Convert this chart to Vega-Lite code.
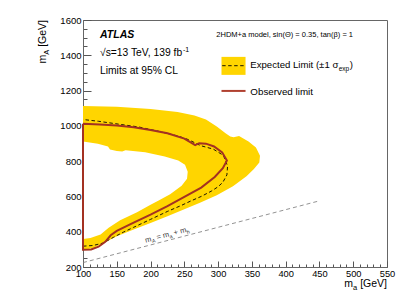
{
  "$schema": "https://vega.github.io/schema/vega-lite/v6.json",
  "width": 304,
  "height": 247,
  "autosize": "none",
  "padding": {"left": 83, "top": 20, "right": 28, "bottom": 31},
  "background": "white",
  "config": {
    "view": {"stroke": "#666", "strokeWidth": 1},
    "font": "Liberation Sans",
    "text": {"font": "Liberation Sans", "color": "black"}
  },
  "resolve": {"axis": {"x": "independent", "y": "independent"}},
  "datasets": {
    "outer": [
      {"x": 100, "y": 1113}, {"x": 150, "y": 1108}, {"x": 200, "y": 1095}, {"x": 240, "y": 1078},
      {"x": 265, "y": 1058}, {"x": 282, "y": 1036}, {"x": 298, "y": 997}, {"x": 311, "y": 958},
      {"x": 318, "y": 940}, {"x": 323, "y": 936}, {"x": 331, "y": 942}, {"x": 345, "y": 912},
      {"x": 356, "y": 877}, {"x": 362, "y": 830}, {"x": 361, "y": 792}, {"x": 353, "y": 755},
      {"x": 342, "y": 714}, {"x": 322, "y": 658}, {"x": 298, "y": 607}, {"x": 274, "y": 566},
      {"x": 250, "y": 528}, {"x": 225, "y": 488}, {"x": 200, "y": 450}, {"x": 175, "y": 412},
      {"x": 150, "y": 375}, {"x": 130, "y": 335}, {"x": 115, "y": 308}, {"x": 100, "y": 295}
    ],
    "hole": [
      {"x": 100, "y": 911}, {"x": 122, "y": 898}, {"x": 137, "y": 883}, {"x": 140, "y": 866},
      {"x": 150, "y": 858}, {"x": 158, "y": 855}, {"x": 163, "y": 862}, {"x": 192, "y": 850},
      {"x": 221, "y": 827}, {"x": 241, "y": 803}, {"x": 251, "y": 780}, {"x": 255, "y": 740},
      {"x": 254, "y": 700}, {"x": 246, "y": 660}, {"x": 229, "y": 612}, {"x": 212, "y": 577},
      {"x": 200, "y": 553}, {"x": 180, "y": 510}, {"x": 155, "y": 465}, {"x": 138, "y": 423},
      {"x": 126, "y": 384}, {"x": 111, "y": 365}, {"x": 100, "y": 359}
    ],
    "expected": [
      {"x": 100, "y": 318}, {"x": 115, "y": 322}, {"x": 130, "y": 336}, {"x": 145, "y": 368},
      {"x": 160, "y": 398}, {"x": 175, "y": 425}, {"x": 200, "y": 470}, {"x": 225, "y": 515},
      {"x": 245, "y": 548}, {"x": 260, "y": 575}, {"x": 275, "y": 600}, {"x": 290, "y": 630},
      {"x": 300, "y": 655}, {"x": 307, "y": 680}, {"x": 313, "y": 722}, {"x": 314, "y": 772},
      {"x": 308, "y": 832}, {"x": 293, "y": 868}, {"x": 274, "y": 888}, {"x": 256, "y": 922},
      {"x": 241, "y": 942}, {"x": 211, "y": 970}, {"x": 182, "y": 994}, {"x": 152, "y": 1010},
      {"x": 123, "y": 1026}, {"x": 100, "y": 1036}
    ],
    "observed": [
      {"x": 100, "y": 1012}, {"x": 100, "y": 298}, {"x": 112, "y": 299}, {"x": 123, "y": 315},
      {"x": 133, "y": 343}, {"x": 141, "y": 380}, {"x": 150, "y": 405}, {"x": 175, "y": 452},
      {"x": 200, "y": 497}, {"x": 225, "y": 545}, {"x": 250, "y": 597}, {"x": 275, "y": 650},
      {"x": 295, "y": 710}, {"x": 307, "y": 760}, {"x": 313, "y": 803}, {"x": 306, "y": 850},
      {"x": 294, "y": 883}, {"x": 282, "y": 899}, {"x": 272, "y": 902}, {"x": 266, "y": 891},
      {"x": 260, "y": 905}, {"x": 250, "y": 928}, {"x": 225, "y": 958}, {"x": 200, "y": 977},
      {"x": 175, "y": 992}, {"x": 150, "y": 1002}, {"x": 125, "y": 1008}, {"x": 100, "y": 1012}
    ]
  },
  "layer": [
    {"data": {"name": "outer"}, "mark": {"type": "line", "fill": "#ffd500", "stroke": null, "strokeWidth": 0},
     "encoding": {
      "order": {"value": null},
      "x": {
        "field": "x", "type": "quantitative", "title": null,
        "scale": {"domain": [100, 550], "nice": false, "zero": false},
        "axis": {
          "orient": "bottom", "title": null, "grid": false, "domain": true, "domainColor": "#666", "format": "d",
          "values": [100,110,120,130,140,150,160,170,180,190,200,210,220,230,240,250,260,270,280,290,300,310,320,330,340,350,360,370,380,390,400,410,420,430,440,450,460,470,480,490,500,510,520,530,540,550],
          "labelExpr": "datum.value % 50 === 0 ? datum.label : ''",
          "tickSize": {"condition": {"test": "datum.value % 50 === 0", "value": -6}, "value": -3},
          "tickColor": "#555", "labelFont": "Liberation Sans", "labelFontSize": 9.3, "labelColor": "black",
          "labelPadding": 8.4, "labelFlush": false, "labelOverlap": false
        }
      },
      "y": {
        "field": "y", "type": "quantitative", "title": null,
        "scale": {"domain": [200, 1600], "nice": false, "zero": false},
        "axis": {
          "orient": "left", "title": null, "grid": false, "domain": true, "domainColor": "#666", "format": "d",
          "values": [200,250,300,350,400,450,500,550,600,650,700,750,800,850,900,950,1000,1050,1100,1150,1200,1250,1300,1350,1400,1450,1500,1550,1600],
          "labelExpr": "datum.value % 200 === 0 ? datum.label : ''",
          "tickSize": {"condition": {"test": "datum.value % 200 === 0", "value": -8}, "value": -4},
          "tickColor": "#555", "labelFont": "Liberation Sans", "labelFontSize": 9.5, "labelColor": "black",
          "labelPadding": 10, "labelFlush": false, "labelOverlap": false
        }
      }
    }},
    {"data": {"name": "hole"}, "mark": {"type": "line", "fill": "white", "stroke": null, "strokeWidth": 0},
     "encoding": {"order": {"value": null}, "x": {"field": "x", "type": "quantitative", "axis": null}, "y": {"field": "y", "type": "quantitative", "axis": null}}},
    {"data": {"name": "expected"}, "mark": {"type": "line", "color": "black", "strokeWidth": 0.9, "strokeDash": [3.5, 2.5]},
     "encoding": {"order": {"value": null}, "x": {"field": "x", "type": "quantitative", "axis": null}, "y": {"field": "y", "type": "quantitative", "axis": null}}},
    {"data": {"name": "observed"}, "mark": {"type": "line", "color": "#a33122", "strokeWidth": 2},
     "encoding": {"order": {"value": null}, "x": {"field": "x", "type": "quantitative", "axis": null}, "y": {"field": "y", "type": "quantitative", "axis": null}}},
    {"data": {"values": [{}]}, "mark": {"type": "rule", "color": "#777", "strokeWidth": 0.8, "strokeDash": [4, 3]},
     "encoding": {"x": {"datum": 100, "axis": null}, "x2": {"datum": 450}, "y": {"datum": 225, "axis": null}, "y2": {"datum": 575}}},
    {"data": {"values": [{}]}, "mark": {"type": "rect", "color": "#ffd500"},
     "encoding": {"x": {"datum": 305, "axis": null}, "x2": {"datum": 340.6}, "y": {"datum": 1391, "axis": null}, "y2": {"datum": 1289}}},
    {"data": {"values": [{}]}, "mark": {"type": "rule", "color": "black", "strokeWidth": 0.9, "strokeDash": [3.5, 2.5]},
     "encoding": {"x": {"datum": 306, "axis": null}, "x2": {"datum": 340}, "y": {"datum": 1341, "axis": null}}},
    {"data": {"values": [{}]}, "mark": {"type": "rule", "color": "#b04030", "strokeWidth": 2},
     "encoding": {"x": {"datum": 305, "axis": null}, "x2": {"datum": 340.6}, "y": {"datum": 1198, "axis": null}}},
    {"data": {"values": [{}]}, "mark": {"type": "text", "text": "ATLAS", "fontSize": 10.5, "fontWeight": "bold", "fontStyle": "italic", "align": "left", "baseline": "alphabetic"},
     "encoding": {"x": {"datum": 125.2, "axis": null}, "y": {"datum": 1496, "axis": null}}},
    {"data": {"values": [{}]}, "mark": {"type": "text", "text": "√s=13 TeV, 139 fb", "fontSize": 10.3, "align": "left", "baseline": "alphabetic"},
     "encoding": {"x": {"datum": 125.2, "axis": null}, "y": {"datum": 1396, "axis": null}}},
    {"data": {"values": [{}]}, "mark": {"type": "text", "text": "-1", "fontSize": 7, "align": "left", "baseline": "alphabetic", "dx": 83, "dy": -4},
     "encoding": {"x": {"datum": 125.2, "axis": null}, "y": {"datum": 1396, "axis": null}}},
    {"data": {"values": [{}]}, "mark": {"type": "text", "text": "Limits at 95% CL", "fontSize": 10.3, "align": "left", "baseline": "alphabetic"},
     "encoding": {"x": {"datum": 125.2, "axis": null}, "y": {"datum": 1294, "axis": null}}},
    {"data": {"values": [{}]}, "mark": {"type": "text", "text": "2HDM+a model, sin(Θ) = 0.35, tan(β) = 1", "fontSize": 7.5, "align": "left", "baseline": "alphabetic"},
     "encoding": {"x": {"datum": 297.4, "axis": null}, "y": {"datum": 1501, "axis": null}}},
    {"data": {"values": [{}]}, "mark": {"type": "text", "text": "Expected Limit (±1 σ", "fontSize": 9.6, "align": "left", "baseline": "alphabetic"},
     "encoding": {"x": {"datum": 347.7, "axis": null}, "y": {"datum": 1330, "axis": null}}},
    {"data": {"values": [{}]}, "mark": {"type": "text", "text": "exp", "fontSize": 6.5, "align": "left", "baseline": "alphabetic", "dx": 88.4, "dy": 3},
     "encoding": {"x": {"datum": 347.7, "axis": null}, "y": {"datum": 1330, "axis": null}}},
    {"data": {"values": [{}]}, "mark": {"type": "text", "text": ")", "fontSize": 9.6, "align": "left", "baseline": "alphabetic", "dx": 99.4},
     "encoding": {"x": {"datum": 347.7, "axis": null}, "y": {"datum": 1330, "axis": null}}},
    {"data": {"values": [{}]}, "mark": {"type": "text", "text": "Observed limit", "fontSize": 9.8, "align": "left", "baseline": "alphabetic"},
     "encoding": {"x": {"datum": 347.7, "axis": null}, "y": {"datum": 1177, "axis": null}}},
    {"data": {"values": [{}]}, "mark": {"type": "text", "text": "m", "fontSize": 7.5, "align": "left", "baseline": "alphabetic", "angle": 345.35, "fill": "#333"},
     "encoding": {"x": {"datum": 193, "axis": null}, "y": {"datum": 338, "axis": null}}},
    {"data": {"values": [{}]}, "mark": {"type": "text", "text": "A", "fontSize": 5.2, "align": "left", "baseline": "alphabetic", "angle": 345.35, "dx": 6.25, "dy": 2, "fill": "#333"},
     "encoding": {"x": {"datum": 193, "axis": null}, "y": {"datum": 338, "axis": null}}},
    {"data": {"values": [{}]}, "mark": {"type": "text", "text": "=", "fontSize": 7.5, "align": "left", "baseline": "alphabetic", "angle": 345.35, "dx": 11.8, "fill": "#333"},
     "encoding": {"x": {"datum": 193, "axis": null}, "y": {"datum": 338, "axis": null}}},
    {"data": {"values": [{}]}, "mark": {"type": "text", "text": "m", "fontSize": 7.5, "align": "left", "baseline": "alphabetic", "angle": 345.35, "dx": 18.3, "fill": "#333"},
     "encoding": {"x": {"datum": 193, "axis": null}, "y": {"datum": 338, "axis": null}}},
    {"data": {"values": [{}]}, "mark": {"type": "text", "text": "a", "fontSize": 5.2, "align": "left", "baseline": "alphabetic", "angle": 345.35, "dx": 24.5, "dy": 2, "fill": "#333"},
     "encoding": {"x": {"datum": 193, "axis": null}, "y": {"datum": 338, "axis": null}}},
    {"data": {"values": [{}]}, "mark": {"type": "text", "text": "+", "fontSize": 7.5, "align": "left", "baseline": "alphabetic", "angle": 345.35, "dx": 29.5, "fill": "#333"},
     "encoding": {"x": {"datum": 193, "axis": null}, "y": {"datum": 338, "axis": null}}},
    {"data": {"values": [{}]}, "mark": {"type": "text", "text": "m", "fontSize": 7.5, "align": "left", "baseline": "alphabetic", "angle": 345.35, "dx": 36, "fill": "#333"},
     "encoding": {"x": {"datum": 193, "axis": null}, "y": {"datum": 338, "axis": null}}},
    {"data": {"values": [{}]}, "mark": {"type": "text", "text": "h", "fontSize": 5.2, "align": "left", "baseline": "alphabetic", "angle": 345.35, "dx": 42.2, "dy": 2, "fill": "#333"},
     "encoding": {"x": {"datum": 193, "axis": null}, "y": {"datum": 338, "axis": null}}},
    {"data": {"values": [{}]}, "mark": {"type": "text", "text": "[GeV]", "fontSize": 10.5, "align": "right", "baseline": "alphabetic"},
     "encoding": {"x": {"datum": 550, "axis": null}, "y": {"datum": 85, "axis": null}}},
    {"data": {"values": [{}]}, "mark": {"type": "text", "text": "a", "fontSize": 7.5, "align": "right", "baseline": "alphabetic", "dx": -29.8, "dy": 2.5},
     "encoding": {"x": {"datum": 550, "axis": null}, "y": {"datum": 85, "axis": null}}},
    {"data": {"values": [{}]}, "mark": {"type": "text", "text": "m", "fontSize": 10.5, "align": "right", "baseline": "alphabetic", "dx": -34},
     "encoding": {"x": {"datum": 550, "axis": null}, "y": {"datum": 85, "axis": null}}},
    {"data": {"values": [{}]}, "mark": {"type": "text", "text": "[GeV]", "fontSize": 10.5, "align": "right", "baseline": "alphabetic", "angle": 270},
     "encoding": {"x": {"datum": 45.7, "axis": null}, "y": {"datum": 1600, "axis": null}}},
    {"data": {"values": [{}]}, "mark": {"type": "text", "text": "A", "fontSize": 7.5, "align": "right", "baseline": "alphabetic", "angle": 270, "dx": -29.8, "dy": 2.5},
     "encoding": {"x": {"datum": 45.7, "axis": null}, "y": {"datum": 1600, "axis": null}}},
    {"data": {"values": [{}]}, "mark": {"type": "text", "text": "m", "fontSize": 10.5, "align": "right", "baseline": "alphabetic", "angle": 270, "dx": -34.8},
     "encoding": {"x": {"datum": 45.7, "axis": null}, "y": {"datum": 1600, "axis": null}}}
  ]
}
